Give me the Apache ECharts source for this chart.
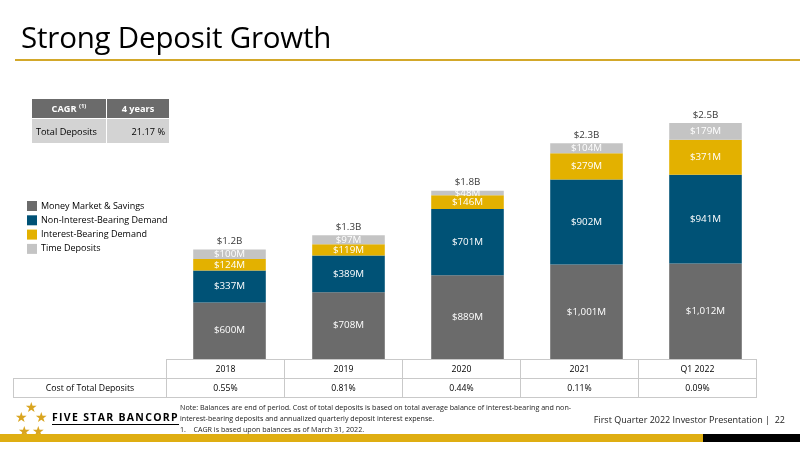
<!DOCTYPE html>
<html><head><meta charset="utf-8">
<script src="https://cdn.jsdelivr.net/npm/echarts@6/dist/echarts.min.js"></script>
<style>
html,body{margin:0;padding:0;background:#fff;}
body{width:800px;height:449px;position:relative;overflow:hidden;font-family:"Open Sans","Noto Sans",sans-serif;color:#000;}
#chart{position:absolute;left:0;top:0;width:800px;height:449px;}
.abs{position:absolute;}
#title{left:21px;top:16px;font-size:29.5px;letter-spacing:-0.2px;white-space:nowrap;}
#titleline{left:15px;top:59px;width:785px;height:2px;background:#d3a82a;}
table{border-collapse:collapse;}
#cagr{left:31px;top:98px;font-size:9.2px;}
#cagr td{padding:0 4px;border:1px solid #fff;}
#cagr .h{background:#6b6b6b;color:#fff;font-weight:bold;text-align:center;height:19px;}
#cagr .d{background:#d3d3d3;height:24px;}
#cost{left:13px;top:359px;font-size:8.7px;}
#cost td{border:1px solid #c9c9c9;text-align:center;height:18px;padding:0;}
#note{left:180px;top:402px;font-size:7.15px;line-height:11px;color:#222;white-space:nowrap;}
#foot{right:15px;top:413px;font-size:9px;color:#222;white-space:nowrap;}
#logo{left:52px;top:411px;font-size:10.5px;font-weight:bold;letter-spacing:1.3px;white-space:nowrap;border-bottom:1.5px solid #000;line-height:13px;}
.star{color:#d9a520;font-size:14px;line-height:14px;}
#bargold{left:0;top:434px;width:703px;height:8px;background:#dfae12;}
#barblack{left:703px;top:434px;width:97px;height:8px;background:#000;}
</style></head>
<body>
<div id="chart"></div>
<div id="title" class="abs"></div>
<div id="titleline" class="abs"></div>
<table id="cagr" class="abs"></table>
<table id="cost" class="abs"></table>
<div id="note" class="abs"></div>
<div id="foot" class="abs"></div>
<div class="abs star" style="left:25px;top:400px;">★</div>
<div class="abs star" style="left:15px;top:410px;">★</div>
<div class="abs star" style="left:35px;top:410px;">★</div>
<div class="abs star" style="left:18px;top:424px;">★</div>
<div class="abs star" style="left:32px;top:424px;">★</div>
<div id="logo" class="abs">FIVE STAR BANCORP</div>
<div id="bargold" class="abs"></div>
<div id="barblack" class="abs"></div>
<script>
var titleText = "Strong Deposit Growth";
var categories = ["2018", "2019", "2020", "2021", "Q1 2022"];
var seriesNames = ["Money Market & Savings", "Non-Interest-Bearing Demand", "Interest-Bearing Demand", "Time Deposits"];
var moneyMarket = [600, 708, 889, 1001, 1012];
var nonInterest = [337, 389, 701, 902, 941];
var interestBearing = [124, 119, 146, 279, 371];
var timeDeposits = [100, 97, 48, 104, 179];
var totalLabels = ["$1.2B", "$1.3B", "$1.8B", "$2.3B", "$2.5B"];
var costRowLabel = "Cost of Total Deposits";
var costValues = ["0.55%", "0.81%", "0.44%", "0.11%", "0.09%"];
var cagrHeader = ["CAGR", "4 years"];
var cagrRow = ["Total Deposits", "21.17 %"];
var noteLines = ["Note: Balances are end of period. Cost of total deposits is based on total average balance of interest-bearing and non-",
  "interest-bearing deposits and annualized quarterly deposit interest expense.",
  "1.&nbsp;&nbsp;&nbsp;&nbsp;CAGR is based upon balances as of March 31, 2022."];
var footText = "First Quarter 2022 Investor Presentation |&nbsp; 22";
var colors = ["#6b6b6b", "#005276", "#e3b100", "#c4c4c4"];

document.getElementById('title').textContent = titleText;
document.getElementById('cagr').innerHTML =
  '<tr><td class="h" style="width:66px">' + cagrHeader[0] + ' <sup style="font-size:6px">(1)</sup></td><td class="h" style="width:54px">' + cagrHeader[1] + '</td></tr>' +
  '<tr><td class="d">' + cagrRow[0] + '</td><td class="d" style="text-align:right">' + cagrRow[1] + '</td></tr>';
var head = '<tr><td style="width:152px;border-left-color:#fff;border-top-color:#fff"></td>';
categories.forEach(function(c){ head += '<td style="width:117px">' + c + '</td>'; });
head += '</tr><tr><td>' + costRowLabel + '</td>';
costValues.forEach(function(v){ head += '<td>' + v + '</td>'; });
head += '</tr>';
document.getElementById('cost').innerHTML = head;
document.getElementById('note').innerHTML = noteLines.join('<br>');
document.getElementById('foot').innerHTML = footText;

var totals = categories.map(function(_, i){ return moneyMarket[i] + nonInterest[i] + interestBearing[i] + timeDeposits[i]; });
var chart = echarts.init(document.getElementById('chart'));
var seriesData = [moneyMarket, nonInterest, interestBearing, timeDeposits];
var series = seriesData.map(function(d, k){
  return {
    name: seriesNames[k], type: 'bar', stack: 'dep', barWidth: '61%',
    itemStyle: {color: colors[k]},
    label: {show: true, position: 'inside', color: '#fff', fontSize: 9.8,
      fontFamily: 'Open Sans',
      formatter: function(p){ return '$' + p.value.toLocaleString('en-US') + 'M'; }},
    data: d
  };
});
series.push({
  name: 'Total', type: 'scatter', symbolSize: 0, data: totals,
  label: {show: true, position: 'top', distance: 3, color: '#000', fontSize: 9.8, fontFamily: 'Open Sans',
    formatter: function(p){ return totalLabels[p.dataIndex]; }},
  tooltip: {show: false}
});
chart.setOption({
  animation: false,
  textStyle: {fontFamily: 'Open Sans'},
  legend: {
    data: seriesNames, orient: 'vertical', left: 22, top: 196,
    icon: 'rect', itemWidth: 10, itemHeight: 10, itemGap: 4.3,
    textStyle: {fontSize: 9, color: '#000', padding: [0, 0, 0, -1]}
  },
  grid: {left: 170, right: 35, top: 76, bottom: 90},
  xAxis: {type: 'category', data: categories, axisLine: {show: false}, axisTick: {show: false}, axisLabel: {show: false}},
  yAxis: {type: 'value', min: 0, max: 3000, show: false, splitLine: {show: false}},
  series: series
});
</script>
</body></html>
